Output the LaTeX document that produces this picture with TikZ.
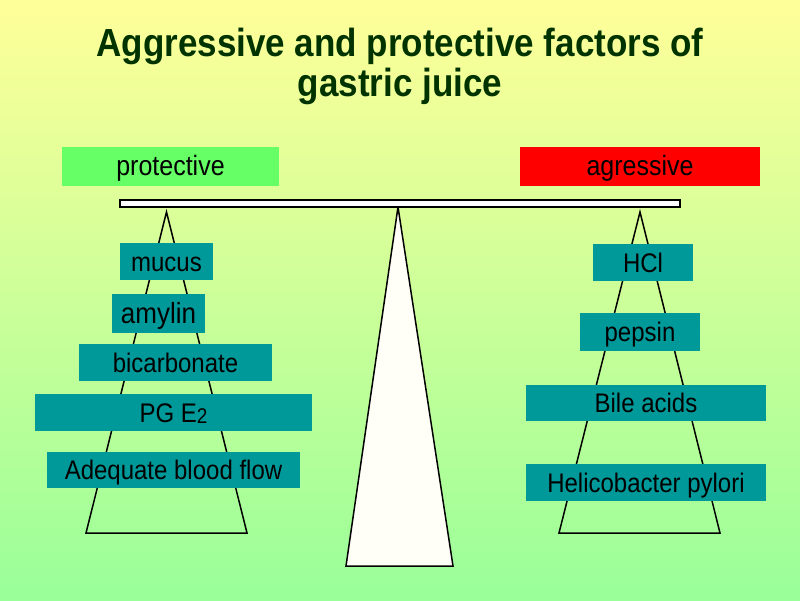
\documentclass[tikz,border=0pt]{standalone}
\usepackage{fontspec}
\setmainfont{Liberation Sans}
\usepackage{graphicx}
\definecolor{bgtop}{RGB}{255,255,153}
\definecolor{bgbot}{RGB}{153,255,153}
\definecolor{tealbox}{RGB}{0,153,153}
\definecolor{greenbox}{RGB}{102,255,102}
\definecolor{redbox}{RGB}{255,0,0}
\definecolor{titlegreen}{RGB}{0,51,0}
\definecolor{offwhite}{RGB}{255,255,248}
\newcommand\tall[1]{\scalebox{1}[1.12]{#1}}
\tikzset{
  labelbox/.style={rectangle, inner sep=0pt, draw=none, text=black,
    font=\fontsize{24}{28}\selectfont, text height=24pt, text depth=5pt},
  tbox/.style={labelbox, fill=tealbox},
  headbox/.style={labelbox, font=\fontsize{25}{29}\selectfont, text height=23pt, text depth=6pt},
  titletext/.style={anchor=base, text=titlegreen, inner sep=0pt,
    font=\fontsize{35}{40}\selectfont\bfseries},
  outline/.style={draw=black, line width=1.5pt, line join=miter},
}
\begin{document}
\begin{tikzpicture}[x=1pt,y=-1pt]
\useasboundingbox (0,0) rectangle (800,600);
\shade[top color=bgtop, bottom color=bgbot] (0,0) rectangle (800,600);

% title
\node[titletext] (t1) at (400,56) {\tall{Aggressive and protective factors of}};
\node[titletext] (t2) at (400,96) {\tall{gastric juice}};

% header boxes
\node[headbox, fill=greenbox, minimum width=217pt, minimum height=39pt] (prot) at (170.5,166.5) {\tall{protective}};
\node[headbox, fill=redbox, minimum width=240pt, minimum height=39pt] (aggr) at (640,166.5) {\tall{agressive}};

% fulcrum and pans
\draw[outline, fill=offwhite] (398,207) -- (453,566) -- (346,566) -- cycle;
\draw[outline] (166.5,212) -- (247,533) -- (86,533) -- cycle;
\draw[outline] (640,212) -- (720,533) -- (559,533) -- cycle;
\draw[outline, fill=white] (120,200) rectangle (680,207);

% protective factors
\node[tbox, minimum width=93pt, minimum height=37pt] (mucus) at (166.5,261.5) {\tall{mucus}};
\node[tbox, minimum width=93pt, minimum height=39pt, font=\fontsize{26}{30}\selectfont] (amylin) at (158.5,313.5) {\tall{amylin}};
\node[tbox, minimum width=193pt, minimum height=37pt] (bicarb) at (175.5,362.5) {\tall{bicarbonate}};
\node[tbox, minimum width=277pt, minimum height=37pt] (pge) at (173.5,412.5) {\tall{PG E\raisebox{-0.05em}{\fontsize{19}{22}\selectfont 2}}};
\node[tbox, minimum width=253pt, minimum height=36pt] (blood) at (173.5,470) {\tall{Adequate blood flow}};

% aggressive factors
\node[tbox, minimum width=100pt, minimum height=37pt] (hcl) at (643,262.5) {\tall{HCl}};
\node[tbox, minimum width=120pt, minimum height=38pt] (pepsin) at (640,332) {\tall{pepsin}};
\node[tbox, minimum width=240pt, minimum height=36pt] (bile) at (646,403) {\tall{Bile acids}};
\node[tbox, minimum width=240pt, minimum height=37pt] (hp) at (646,482.5) {\tall{Helicobacter pylori}};
\end{tikzpicture}
\end{document}
